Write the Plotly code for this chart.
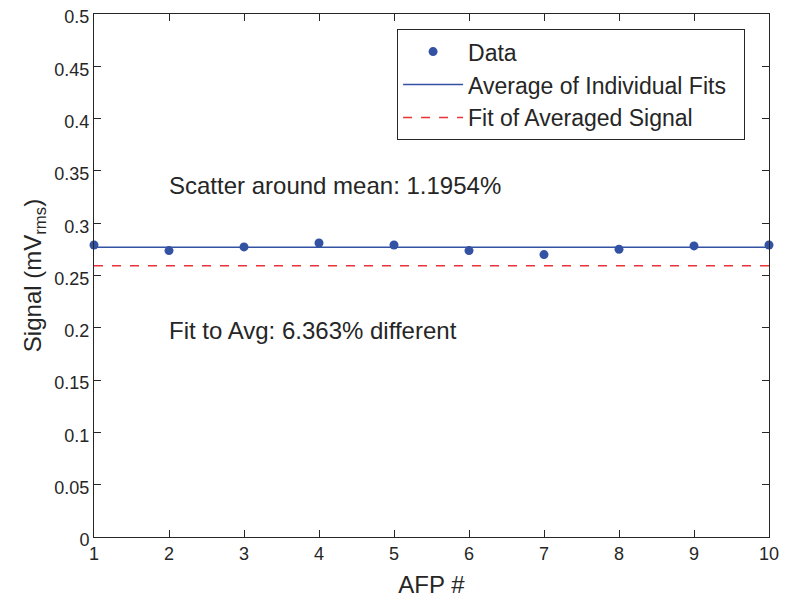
import plotly.graph_objects as go

afp = [1, 2, 3, 4, 5, 6, 7, 8, 9, 10]
signal = [0.2792, 0.2738, 0.2773, 0.2811, 0.2792, 0.2738, 0.2700, 0.2751, 0.2783, 0.2792]
avg_individual = 0.2770
fit_averaged = 0.2594

blue = "#3452a4"
red = "#e8333a"
ink = "#262626"
font = "Liberation Sans, Arial, Helvetica, sans-serif"

fig = go.Figure()

fig.add_trace(go.Scatter(
    x=afp, y=signal, mode="markers", name="Data",
    marker=dict(color=blue, size=9), cliponaxis=False,
))
fig.add_trace(go.Scatter(
    x=[afp[0], afp[-1]], y=[avg_individual, avg_individual], mode="lines",
    name="Average of Individual Fits\u00a0\u00a0", line=dict(color=blue, width=1.5),
))
fig.add_trace(go.Scatter(
    x=[afp[0], afp[-1]], y=[fit_averaged, fit_averaged], mode="lines",
    name="Fit of Averaged Signal", line=dict(color=red, width=1.5, dash="dash"),
))

# text on the plot
fig.add_annotation(x=1.973, y=0.3356, xref="x", yref="y", xanchor="left",
                   text="Scatter around mean: 1.1954%", showarrow=False,
                   font=dict(size=24, color=ink, family=font))
fig.add_annotation(x=1.973, y=0.197, xref="x", yref="y", xanchor="left",
                   text="Fit to Avg: 6.363% different", showarrow=False,
                   font=dict(size=24, color=ink, family=font))

axis_style = dict(
    showgrid=False, zeroline=False, showline=True, mirror="ticks",
    linecolor="#262626", linewidth=1, ticks="inside", ticklen=7,
    tickcolor="#262626", tickfont=dict(size=18, color=ink, family=font),
    ticklabeloverflow="allow", automargin=False,
)

fig.update_xaxes(range=[1, 10], tickvals=afp,
                 title=dict(text="AFP #", font=dict(size=24, color=ink, family=font), standoff=13),
                 **axis_style)
# nudge y labels down a little so the top one stays on the page
fig.update_yaxes(range=[0, 0.5], dtick=0.05, tick0=0, ticklabelshift=3,
                 title=dict(text="Signal (mV<sub>rms</sub>)", font=dict(size=24, color=ink, family=font), standoff=5),
                 **axis_style)

# page body adds an 8px margin, so the figure is 8px smaller
fig.update_layout(
    width=780, height=599,
    margin=dict(l=86, r=19, t=6, b=70),
    plot_bgcolor="white", paper_bgcolor="white",
    font=dict(family=font, color=ink),
    showlegend=True,
    legend=dict(
        x=0.449, y=0.971, xanchor="left", yanchor="top",
        bordercolor="#262626", borderwidth=1, bgcolor="white",
        font=dict(size=23, color=ink, family=font),
        itemwidth=60, tracegroupgap=0,
    ),
)

fig.write_html("out.html")
